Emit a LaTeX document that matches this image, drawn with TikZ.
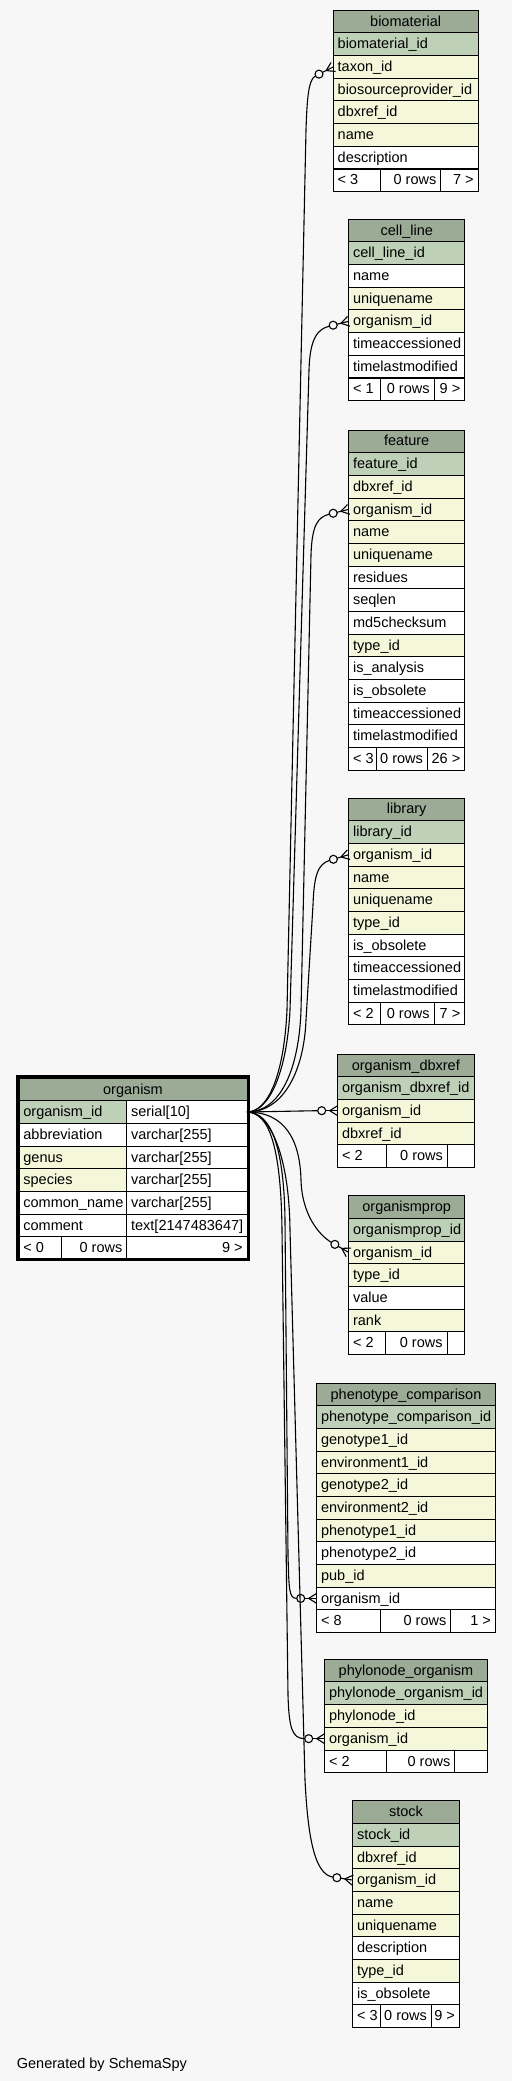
\documentclass[tikz,border=0pt]{standalone}
\usepackage{fontspec}
\setmainfont{Liberation Sans}
\usetikzlibrary{calc}
\definecolor{bg}{HTML}{F7F7F7}
\definecolor{hdr}{HTML}{9BAB96}
\definecolor{pk}{HTML}{BED1B8}
\definecolor{fk}{HTML}{F4F7DA}
\definecolor{wt}{HTML}{FFFFFF}
\tikzset{
  cellsty/.style={draw=black, line width=1pt, inner xsep=4.4pt, inner ysep=0pt,
    minimum height=22.67pt, outer sep=0pt, text height=10.5pt, text depth=1.2pt,
    font=\fontsize{14.5}{16}\selectfont},
  rel/.style={draw=black, line width=1.1pt}
}
\newcommand\erdcell[7]{%
  \pgfmathsetmacro\erdcw{#3-#2}%
  \node[cellsty, fill=#5, anchor=north west] (#1) at (#2,#4)
    {\makebox[\dimexpr\erdcw pt-8.8pt\relax][#6]{#7}};}
\newcommand\erdtbl[6]{%
  \erdcell{#1-0}{#2}{#3}{#4}{hdr}{c}{#5}%
  \foreach \rc/\rt [count=\ri] in {#6}{%
    \pgfmathsetmacro\erdy{#4+\ri*22.67}%
    \erdcell{#1-\ri}{#2}{#3}{\erdy}{\rc}{l}{\rt}}}
\newcommand\erdftr[9]{%
  \erdcell{#1-fa}{#3}{#4}{#2}{wt}{l}{#7}%
  \erdcell{#1-fb}{#4}{#5}{#2}{wt}{r}{#8}%
  \erdcell{#1-fc}{#5}{#6}{#2}{wt}{r}{#9}}
\newcommand\crowend[2]{%
  \draw[rel] ($(#1)!12pt!(#2)$) -- (#1);
  \draw[rel] ($(#1)!8pt!(#2)$) -- ($(#1)!5pt!90:(#2)$);
  \draw[rel] ($(#1)!8pt!(#2)$) -- ($(#1)!5pt!-90:(#2)$);
  \draw[rel, fill=bg] ($(#1)!16pt!(#2)$) circle[radius=4pt];}
\begin{document}
\begin{tikzpicture}[x=1pt,y=-1pt]
\fill[bg] (0,0) rectangle (512,2081);
\useasboundingbox (0,0) rectangle (512,2081);

% biomaterial
\erdtbl{bio}{333.3}{478}{10.3}{biomaterial}{pk/biomaterial\_id, fk/taxon\_id, fk/biosourceprovider\_id, fk/dbxref\_id, fk/name, wt/description}
\erdftr{bio}{169.0}{333.3}{380.7}{440.7}{478}{< 3}{0 rows}{7 >}
% cell_line
\erdtbl{cell}{348.7}{464.7}{219.3}{cell\_line}{pk/cell\_line\_id, wt/name, fk/uniquename, fk/organism\_id, wt/timeaccessioned, wt/timelastmodified}
\erdftr{cell}{378.0}{348.7}{380.7}{434}{464.7}{< 1}{0 rows}{9 >}
% feature
\erdtbl{feat}{348.7}{464.7}{430}{feature}{pk/feature\_id, fk/dbxref\_id, fk/organism\_id, fk/name, fk/uniquename, wt/residues, wt/seqlen, wt/md5checksum, fk/type\_id, wt/is\_analysis, wt/is\_obsolete, wt/timeaccessioned, wt/timelastmodified}
\erdftr{feat}{747.4}{348.7}{376.7}{427.3}{464.7}{< 3}{0 rows}{26 >}
% library
\erdtbl{lib}{348.7}{464.7}{798}{library}{pk/library\_id, fk/organism\_id, fk/name, fk/uniquename, fk/type\_id, wt/is\_obsolete, wt/timeaccessioned, wt/timelastmodified}
\erdftr{lib}{1002}{348.7}{380.7}{434}{464.7}{< 2}{0 rows}{7 >}
% organism_dbxref
\erdtbl{odx}{337.7}{474}{1054}{organism\_dbxref}{pk/organism\_dbxref\_id, fk/organism\_id, fk/dbxref\_id}
\erdftr{odx}{1144.7}{337.7}{386}{447.3}{474}{< 2}{0 rows}{}
% organismprop
\erdtbl{prop}{348.7}{464.7}{1195.7}{organismprop}{pk/organismprop\_id, fk/organism\_id, fk/type\_id, wt/value, fk/rank}
\erdftr{prop}{1331.7}{348.7}{385}{447}{464.7}{< 2}{0 rows}{}
% phenotype_comparison
\erdtbl{phc}{316.7}{495.3}{1383}{phenotype\_comparison}{pk/phenotype\_comparison\_id, fk/genotype1\_id, fk/environment1\_id, fk/genotype2\_id, fk/environment2\_id, fk/phenotype1\_id, wt/phenotype2\_id, fk/pub\_id, wt/organism\_id}
\erdftr{phc}{1609.7}{316.7}{380.7}{450.7}{495.3}{< 8}{0 rows}{1 >}
% phylonode_organism
\erdtbl{phy}{324.7}{487.3}{1659.3}{phylonode\_organism}{pk/phylonode\_organism\_id, fk/phylonode\_id, fk/organism\_id}
\erdftr{phy}{1750}{324.7}{386}{454.7}{487.3}{< 2}{0 rows}{}
% stock
\erdtbl{stk}{352.7}{459.3}{1800.7}{stock}{pk/stock\_id, fk/dbxref\_id, fk/organism\_id, fk/name, fk/uniquename, wt/description, fk/type\_id, wt/is\_obsolete}
\erdftr{stk}{2004.7}{352.7}{380.7}{431.3}{459.3}{< 3}{0 rows}{9 >}

% organism (focus table)
\erdcell{org-0}{19}{247}{1078}{hdr}{c}{organism}
\erdcell{orgn-1}{19}{126.7}{1100.67}{pk}{l}{organism\_id}
\erdcell{orgt-1}{126.7}{247}{1100.67}{wt}{l}{serial[10]}
\erdcell{orgn-2}{19}{126.7}{1123.34}{wt}{l}{abbreviation}
\erdcell{orgt-2}{126.7}{247}{1123.34}{wt}{l}{varchar[255]}
\erdcell{orgn-3}{19}{126.7}{1146.01}{fk}{l}{genus}
\erdcell{orgt-3}{126.7}{247}{1146.01}{wt}{l}{varchar[255]}
\erdcell{orgn-4}{19}{126.7}{1168.68}{fk}{l}{species}
\erdcell{orgt-4}{126.7}{247}{1168.68}{wt}{l}{varchar[255]}
\erdcell{orgn-5}{19}{126.7}{1191.35}{wt}{l}{common\_name}
\erdcell{orgt-5}{126.7}{247}{1191.35}{wt}{l}{varchar[255]}
\erdcell{orgn-6}{19}{126.7}{1214.02}{wt}{l}{comment}
\erdcell{orgt-6}{126.7}{247}{1214.02}{wt}{l}{text[2147483647]}
\erdftr{org}{1236.69}{19}{61}{126.7}{247}{< 0}{0 rows}{9 >}
\draw[line width=3pt] (17.5,1076.5) rectangle (248.5,1259.5);

% relationships
\coordinate (Pb) at (bio-2.west);  \coordinate (Bb) at ($(Pb)+(-10,5)$);
\coordinate (Pc) at (cell-4.west); \coordinate (Bc) at ($(Pc)+(-10,2.5)$);
\coordinate (Pf) at (feat-3.west); \coordinate (Bf) at ($(Pf)+(-10,2.5)$);
\coordinate (Pl) at (lib-2.west);  \coordinate (Bl) at ($(Pl)+(-10,3)$);
\coordinate (Pd) at (odx-2.west);  \coordinate (Bd) at ($(Pd)+(-10,0)$);
\coordinate (Pp) at (prop-2.west); \coordinate (Bp) at ($(Pp)+(-10,-5.8)$);
\coordinate (Ph) at (phc-9.west);  \coordinate (Bh) at ($(Ph)+(-10,0)$);
\coordinate (Py) at (phy-3.west);  \coordinate (By) at ($(Py)+(-10,0)$);
\coordinate (Ps) at (stk-3.west);  \coordinate (Bs) at ($(Ps)+(-10,-1.5)$);

\draw[rel] (orgt-1.east) .. controls (268,1112) and (284,1075) .. (287,1010) -- (306,130)
  .. controls (307,100) and ($(Pb)!28pt!(Bb)$) .. ($(Pb)!20pt!(Bb)$);
\crowend{Pb}{Bb}
\draw[rel] (orgt-1.east) .. controls (270,1112) and (287,1070) .. (290,1010) -- (309,370)
  .. controls (310,338) and ($(Pc)!32pt!(Bc)$) .. ($(Pc)!20pt!(Bc)$);
\crowend{Pc}{Bc}
\draw[rel] (orgt-1.east) .. controls (280,1112) and (299,1070) .. (301,1010) -- (311,555)
  .. controls (312,525) and ($(Pf)!32pt!(Bf)$) .. ($(Pf)!20pt!(Bf)$);
\crowend{Pf}{Bf}
\draw[rel] (orgt-1.east) .. controls (284,1112) and (304,1070) .. (306,1020) -- (313,905)
  .. controls (314,875) and ($(Pl)!32pt!(Bl)$) .. ($(Pl)!20pt!(Bl)$);
\crowend{Pl}{Bl}
\draw[rel] (orgt-1.east) -- ($(Pd)!20pt!(Bd)$);
\crowend{Pd}{Bd}
\draw[rel] (orgt-1.east) .. controls (285,1112) and (300,1140) .. (301,1180)
  .. controls (302,1215) and ($(Pp)!34pt!(Bp)$) .. ($(Pp)!20pt!(Bp)$);
\crowend{Pp}{Bp}
\draw[rel] (orgt-1.east) .. controls (272,1112) and (284,1150) .. (285,1220) -- (288,1555)
  .. controls (289,1590) and (289,1598.4) .. ($(Ph)!20pt!(Bh)$);
\crowend{Ph}{Bh}
\draw[rel] (orgt-1.east) .. controls (270,1112) and (281,1150) .. (282,1230) -- (288,1695)
  .. controls (289,1728) and (292,1738.6) .. ($(Py)!20pt!(By)$);
\crowend{Py}{By}
\draw[rel] (orgt-1.east) .. controls (268,1112) and (289,1150) .. (290,1230) -- (305,1780)
  .. controls (308,1840) and ($(Ps)!38pt!(Bs)$) .. ($(Ps)!20pt!(Bs)$);
\crowend{Ps}{Bs}

\node[anchor=base west, font=\fontsize{14.5}{16}\selectfont, inner sep=0pt] (gen) at (16.7,2068.3) {Generated by SchemaSpy};
\end{tikzpicture}
\end{document}
